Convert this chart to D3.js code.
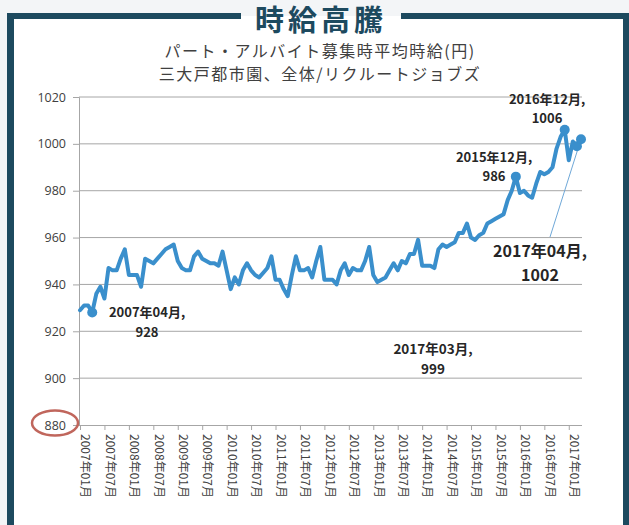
<!DOCTYPE html>
<html>
<head>
<meta charset="utf-8">
<script src="https://cdn.jsdelivr.net/npm/d3@7"></script>
<style>
  body { margin: 0; background: #f3f5f7; }
  svg { display: block; }
  text { font-family: "Noto Sans CJK JP", "Noto Sans", sans-serif; }
</style>
</head>
<body>
<svg id="chart" width="629" height="525"></svg>
<script>
// monthly average hourly wage, 2007/01 .. 2017/04
var v2007 = [929, 931, 931, 928, 936, 939, 934, 947, 946, 946, 951, 955];
var v2008 = [944, 944, 944, 939, 951, 950, 949, 951, 953, 955, 956, 957];
var v2009 = [950, 947, 946, 946, 952, 954, 951, 950, 949, 949, 948, 954];
var v2010 = [946, 938, 943, 940, 946, 949, 946, 944, 943, 945, 947, 952];
var v2011 = [942, 942, 938, 935, 944, 952, 946, 946, 947, 943, 950, 956];
var v2012 = [942, 942, 942, 940, 946, 949, 944, 947, 946, 946, 950, 956];
var v2013 = [944, 941, 942, 943, 946, 949, 946, 950, 949, 953, 953, 959];
var v2014 = [948, 948, 948, 947, 955, 957, 956, 957, 958, 962, 962, 966];
var v2015 = [960, 959, 961, 962, 966, 967, 968, 969, 970, 976, 980, 986];
var v2016 = [979, 980, 978, 977, 983, 988, 987, 988, 990, 998, 1003, 1006];
var v2017 = [993, 1001, 999, 1002];

var xTickLabels = ["2007年01月", "2007年07月", "2008年01月", "2008年07月", "2009年01月", "2009年07月",
  "2010年01月", "2010年07月", "2011年01月", "2011年07月", "2012年01月", "2012年07月",
  "2013年01月", "2013年07月", "2014年01月", "2014年07月", "2015年01月", "2015年07月",
  "2016年01月", "2016年07月", "2017年01月"];
var yTicks = [880, 900, 920, 940, 960, 980, 1000, 1020];

// labelled points: month index, label lines
var notes = [
  { i: 3,   l1: "2007年04月,", l2: "928" },
  { i: 107, l1: "2015年12月,", l2: "986" },
  { i: 119, l1: "2016年12月,", l2: "1006" },
  { i: 122, l1: "2017年03月,", l2: "999" },
  { i: 123, l1: "2017年04月,", l2: "1002" }
];

var values = [].concat(v2007, v2008, v2009, v2010, v2011, v2012, v2013, v2014, v2015, v2016, v2017);
var data = values.map(function(v, i){ return { i: i, v: v }; });

var svg = d3.select("#chart");

// frame
svg.append("rect").attr("x", 10).attr("y", 16).attr("width", 615).attr("height", 509).attr("fill", "#fff");
var frameColor = "#1d4a5f";
svg.append("line").attr("x1", 7).attr("x2", 241).attr("y1", 16).attr("y2", 16)
  .attr("stroke", frameColor).attr("stroke-width", 6);
svg.append("line").attr("x1", 401).attr("x2", 629).attr("y1", 16).attr("y2", 16)
  .attr("stroke", frameColor).attr("stroke-width", 6);
svg.append("line").attr("x1", 10.5).attr("x2", 10.5).attr("y1", 13).attr("y2", 525)
  .attr("stroke", frameColor).attr("stroke-width", 7);
svg.append("line").attr("x1", 626).attr("x2", 626).attr("y1", 13).attr("y2", 525)
  .attr("stroke", frameColor).attr("stroke-width", 6);

svg.append("text").attr("x", 321).attr("y", 31).attr("text-anchor", "middle")
  .attr("font-size", 29).attr("font-weight", 700).attr("fill", frameColor)
  .attr("letter-spacing", 4).text("時給高騰");

svg.append("text").attr("x", 320).attr("y", 57).attr("text-anchor", "middle")
  .attr("font-size", 16).attr("letter-spacing", 1.5).attr("fill", "#404040")
  .text("パート・アルバイト募集時平均時給(円)");
svg.append("text").attr("x", 320).attr("y", 80).attr("text-anchor", "middle")
  .attr("font-size", 16).attr("letter-spacing", 1.5).attr("fill", "#404040")
  .text("三大戸都市園、全体/リクルートジョブズ");

// scales
var x = d3.scaleLinear().domain([0, 123]).range([80, 581]);
var y = d3.scaleLinear().domain([880, 1020]).range([425, 97]);

// grid + y axis
var gy = svg.append("g").attr("transform", "translate(79,0)")
  .call(d3.axisLeft(y).tickValues(yTicks).tickSize(6).tickPadding(7).tickFormat(d3.format("d")));
gy.select(".domain").attr("stroke", "#a6a6a6");
gy.selectAll(".tick line").attr("stroke", "#a6a6a6");
gy.selectAll(".tick text").attr("font-size", 12.5).attr("fill", "#404040")
  .style("font-family", "'Open Sans', sans-serif");

svg.append("g").selectAll("line").data(yTicks.slice(1)).enter().append("line")
  .attr("x1", 79).attr("x2", 582)
  .attr("y1", function(d){ return y(d); }).attr("y2", function(d){ return y(d); })
  .attr("stroke", "#a6a6a6").attr("stroke-width", 1);

// x axis
var tickIdx = xTickLabels.map(function(d, k){ return k * 6; });
var gx = svg.append("g").attr("transform", "translate(0,425)")
  .call(d3.axisBottom(x).tickValues(tickIdx).tickSize(5).tickSizeOuter(0)
    .tickFormat(function(d, k){ return xTickLabels[k]; }));
gx.select(".domain").attr("stroke", "#a6a6a6").attr("d", "M79,0.5H582");
gx.selectAll(".tick line").attr("stroke", "#a6a6a6");
gx.selectAll(".tick text")
  .attr("font-size", 12).attr("fill", "#404040")
  .attr("text-anchor", "start").attr("dy", null)
  .attr("transform", "translate(4,9) rotate(90)")
  .attr("x", 0).attr("y", 0)
  .attr("dominant-baseline", "middle");

// red circle around 880
svg.append("ellipse").attr("cx", 55).attr("cy", 423).attr("rx", 23).attr("ry", 12.5)
  .attr("fill", "none").attr("stroke", "#c0665c").attr("stroke-width", 2.5);

// leader line for 2017/04
svg.append("line").attr("x1", x(123)).attr("y1", y(1002)).attr("x2", 550).attr("y2", 237)
  .attr("stroke", "#6fa8d8").attr("stroke-width", 1);

// line
var line = d3.line()
  .x(function(d){ return x(d.i); })
  .y(function(d){ return y(d.v); });

svg.append("path").datum(data)
  .attr("fill", "none").attr("stroke", "#3a8fcc").attr("stroke-width", 4)
  .attr("stroke-linejoin", "round").attr("stroke-linecap", "round")
  .attr("d", line);

svg.append("g").selectAll("circle").data(notes).enter().append("circle")
  .attr("cx", function(d){ return x(d.i); })
  .attr("cy", function(d){ return y(values[d.i]); })
  .attr("r", 5).attr("fill", "#3a8fcc");

// labels
var labelPos = {
  3:   { x: 147, y1: 317, y2: 337, size: 13 },
  107: { x: 494, y1: 162, y2: 181, size: 13 },
  119: { x: 547, y1: 104, y2: 123, size: 13 },
  122: { x: 433, y1: 354, y2: 374, size: 13.5 },
  123: { x: 540, y1: 257, y2: 281, size: 16 }
};
var lg = svg.append("g");
notes.forEach(function(n){
  var p = labelPos[n.i];
  lg.append("text").attr("x", p.x).attr("y", p.y1).attr("text-anchor", "middle")
    .attr("font-size", p.size).attr("font-weight", 700).attr("fill", "#262626").text(n.l1);
  lg.append("text").attr("x", p.x).attr("y", p.y2).attr("text-anchor", "middle")
    .attr("font-size", p.size).attr("font-weight", 700).attr("fill", "#262626").text(n.l2);
});
</script>
</body>
</html>
